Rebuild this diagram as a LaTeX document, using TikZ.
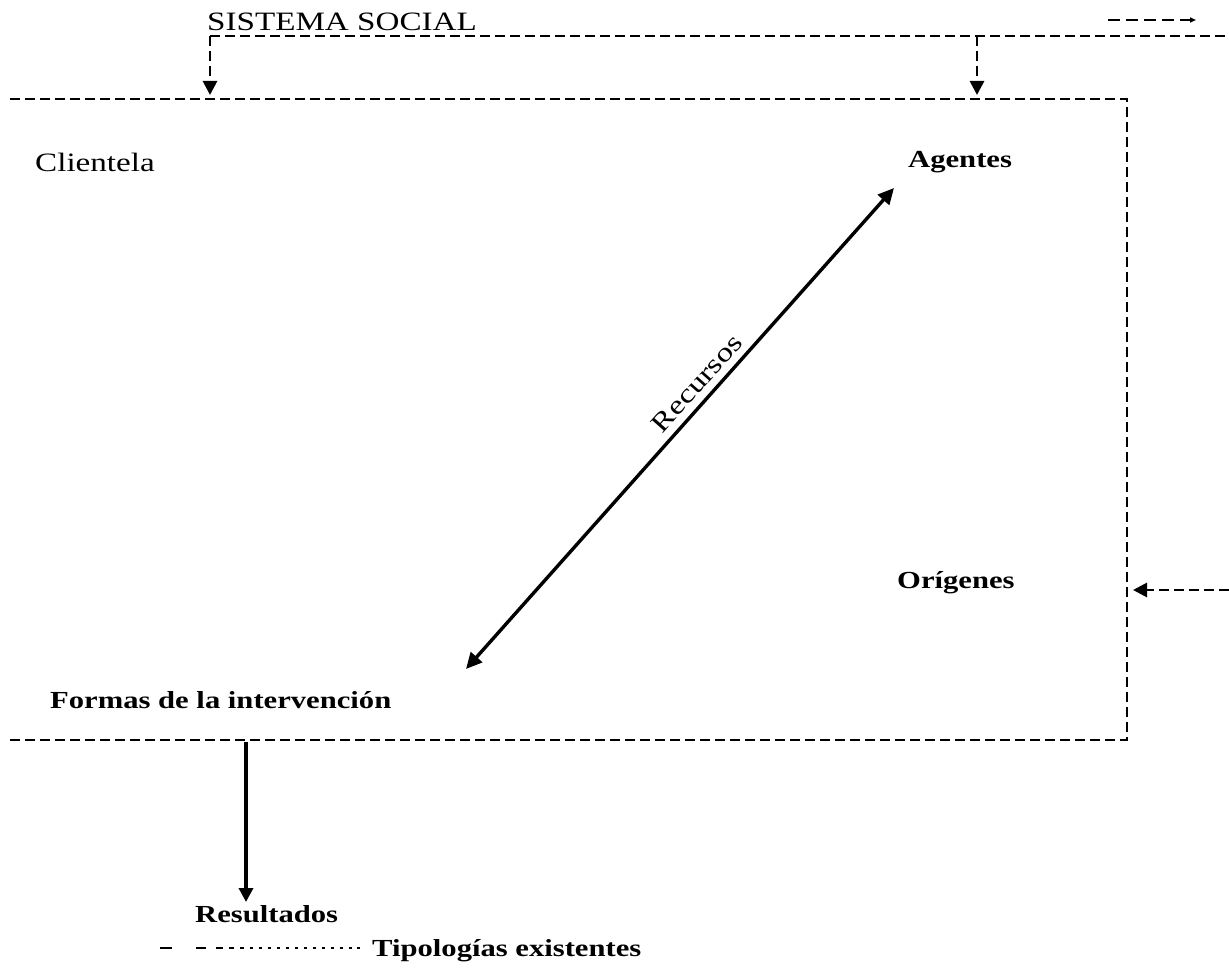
\documentclass[tikz,border=0pt]{standalone}
\usepackage{fontspec}
\setmainfont[FakeStretch=1.25]{Liberation Serif}
\usetikzlibrary{arrows.meta}
\begin{document}
\begin{tikzpicture}[x=1pt,y=-1pt,
  lbl/.style={inner sep=0pt,font=\fontsize{26.5}{30}\selectfont},
  blbl/.style={inner sep=0pt,font=\fontsize{24.5}{28}\selectfont\bfseries},
  dsh/.style={line width=2.8pt,dash pattern=on 10pt off 5pt},
  tipd/.style={-{Triangle[length=14pt,width=14pt]}},
  solidln/.style={line width=3.4pt}]
\useasboundingbox (0,0) rectangle (1229,973);
% labels
\node[lbl,anchor=base west] (sist) at (207,31) {SISTEMA SOCIAL};
\node[lbl,anchor=base west] (cli) at (35,172) {Clientela};
\node[blbl,anchor=base west] (age) at (908,168) {Agentes};
\node[blbl,anchor=base west] (ori) at (897,588) {Orígenes};
\node[blbl,anchor=base west] (for) at (50,708) {Formas de la intervención};
\node[blbl,anchor=base west] (res) at (195,922) {Resultados};
\node[blbl,anchor=base west] (tip) at (372,956) {Tipologías existentes};
% coordinates
\coordinate (sL) at (210,36);
\coordinate (sR) at (1229,36);
\coordinate (sA) at (977,36);
\coordinate (bTL) at (10,99);
\coordinate (bTR) at (1127,99);
\coordinate (bBR) at (1127,740);
\coordinate (bBL) at (10,740);
\coordinate (bA) at (977,95);
\coordinate (bL) at (210,95);
\coordinate (rin) at (1229,590);
\coordinate (rtip) at (1133,590);
\coordinate (dtop) at (246,742);
\coordinate (dbot) at (246,902);
\coordinate (ra) at (466,669);
\coordinate (rb) at (894,188);
\coordinate (tr1) at (1108,20);
\coordinate (tr2) at (1196,20);
% social system line and arrows
\draw[dsh] (sL) -- (sR);
\draw[line width=1.5pt,dash pattern=on 12pt off 6pt,-{Triangle[length=6pt,width=5pt]}] (tr1) -- (tr2);
\draw[dsh,tipd] (sL) -- (bL);
\draw[dsh,tipd] (sA) -- (bA);
% box
\draw[dsh] (bTL) -- (bTR) -- (bBR) -- (bBL);
\draw[dsh,tipd] (rin) -- (rtip);
% results
\draw[solidln,tipd] (dtop) -- (dbot);
% recursos
\draw[solidln,{Triangle[length=16pt,width=15pt]}-{Triangle[length=16pt,width=15pt]}] (ra) -- (rb)
  node[lbl,pos=0.57,sloped,above=7pt] (rec) {Recursos};
% legend
\draw[line width=1.8pt] (160,948) -- (172,948);
\draw[line width=1.8pt] (196,948) -- (206,948);
\draw[line width=1.8pt] (216,948) -- (223,948);
\draw[line width=1.8pt] (229,948) -- (234,948);
\draw[line width=1.8pt] (240,948) -- (244,948);
\foreach \xx in {251,260,269,278,287,296,305,314,323,332,341,350,358}
  \draw[line width=1.8pt] (\xx-1.5,948) -- (\xx+1.5,948);
\end{tikzpicture}
\end{document}
